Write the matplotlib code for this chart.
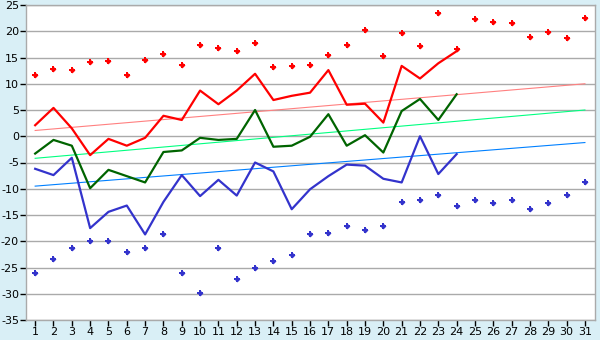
import matplotlib
matplotlib.use("Agg")
import matplotlib.pyplot as plt
import numpy as np

plt.rcParams["axes.unicode_minus"] = False

days = list(range(1, 32))
days_obs = list(range(1, 25))

tmax = [2.1, 5.4, 1.5, -3.6, -0.5, -1.8, -0.3, 3.9, 3.1, 8.7, 6.1, 8.7, 11.9, 6.9,
        7.7, 8.3, 12.6, 6.0, 6.2, 2.6, 13.4, 11.0, 13.9, 16.2]
tmean = [-3.3, -0.7, -1.8, -9.9, -6.4, -7.6, -8.8, -3.0, -2.7, -0.3, -0.7, -0.5, 5.0, -2.0,
         -1.8, -0.1, 4.2, -1.8, 0.2, -3.1, 4.8, 7.1, 3.1, 8.0]
tmin = [-6.2, -7.4, -4.1, -17.5, -14.4, -13.2, -18.7, -12.5, -7.4, -11.4, -8.3, -11.3, -5.0, -6.7,
        -13.9, -10.1, -7.6, -5.4, -5.6, -8.1, -8.8, 0.0, -7.2, -3.4]

rec_high = [11.6, 12.9, 12.7, 14.1, 14.3, 11.6, 14.5, 15.7, 13.5, 17.3, 16.9, 16.2, 17.7, 13.1,
            13.3, 13.5, 15.4, 17.3, 20.2, 15.2, 19.6, 17.1, 23.4, 16.7, 22.3, 21.7, 21.5, 19.0,
            19.8, 18.8, 22.6]
rec_low = [-26.1, -23.3, -21.2, -20.0, -20.0, -22.1, -21.2, -18.7, -26.1, -29.9, -21.2, -27.2,
           -25.0, -23.8, -22.7, -18.7, -18.4, -17.0, -17.9, -17.0, -12.6, -12.2, -11.1, -13.2,
           -12.2, -12.8, -12.2, -13.9, -12.8, -11.1, -8.8]

trend_days = [1, 31]
trend_max = [1.1, 10.0]
trend_mean = [-4.2, 5.0]
trend_min = [-9.5, -1.2]

yticks = list(range(-35, 30, 5))

bg = "#d9eff6"
fig = plt.figure(figsize=(6.0, 3.4), dpi=100, facecolor=bg)
ax = fig.add_axes([26/600, 1-320/340, (595-26)/600, (320-5)/340])
ax.set_facecolor("white")

for y in yticks:
    ax.axhline(y, color="#aaaaaa", lw=1.0, zorder=1)

ax.plot(trend_days, trend_max, color="#ff8080", lw=0.8, zorder=2)
ax.plot(trend_days, trend_mean, color="#00ff80", lw=0.8, zorder=2)
ax.plot(trend_days, trend_min, color="#0080ff", lw=0.8, zorder=2)

ax.plot(days_obs, tmax, color="#ff0000", lw=1.6, zorder=3)
ax.plot(days_obs, tmean, color="#006400", lw=1.6, zorder=3)
ax.plot(days_obs, tmin, color="#3333cc", lw=1.6, zorder=3)

for vals, col in ((rec_high, "#ff0000"), (rec_low, "#3333cc")):
    ax.plot(days, vals, linestyle="none", marker="D", ms=3.0, color=col,
            markeredgewidth=0, zorder=4)
    ax.plot(days, vals, linestyle="none", marker="P", ms=4.6, color=col,
            markeredgewidth=0, zorder=4)

ax.set_xlim(0.5, 31.55)
ax.set_ylim(-35, 25)
ax.set_xticks(days)
ax.set_yticks(yticks)
ax.tick_params(axis="both", direction="out", length=4, width=1, color="black",
               labelsize=8, labelcolor="black", pad=1)
for s in ax.spines.values():
    s.set_color("#aaaaaa")
    s.set_linewidth(1.0)

fig.savefig("out.png", dpi=100, facecolor=bg)
